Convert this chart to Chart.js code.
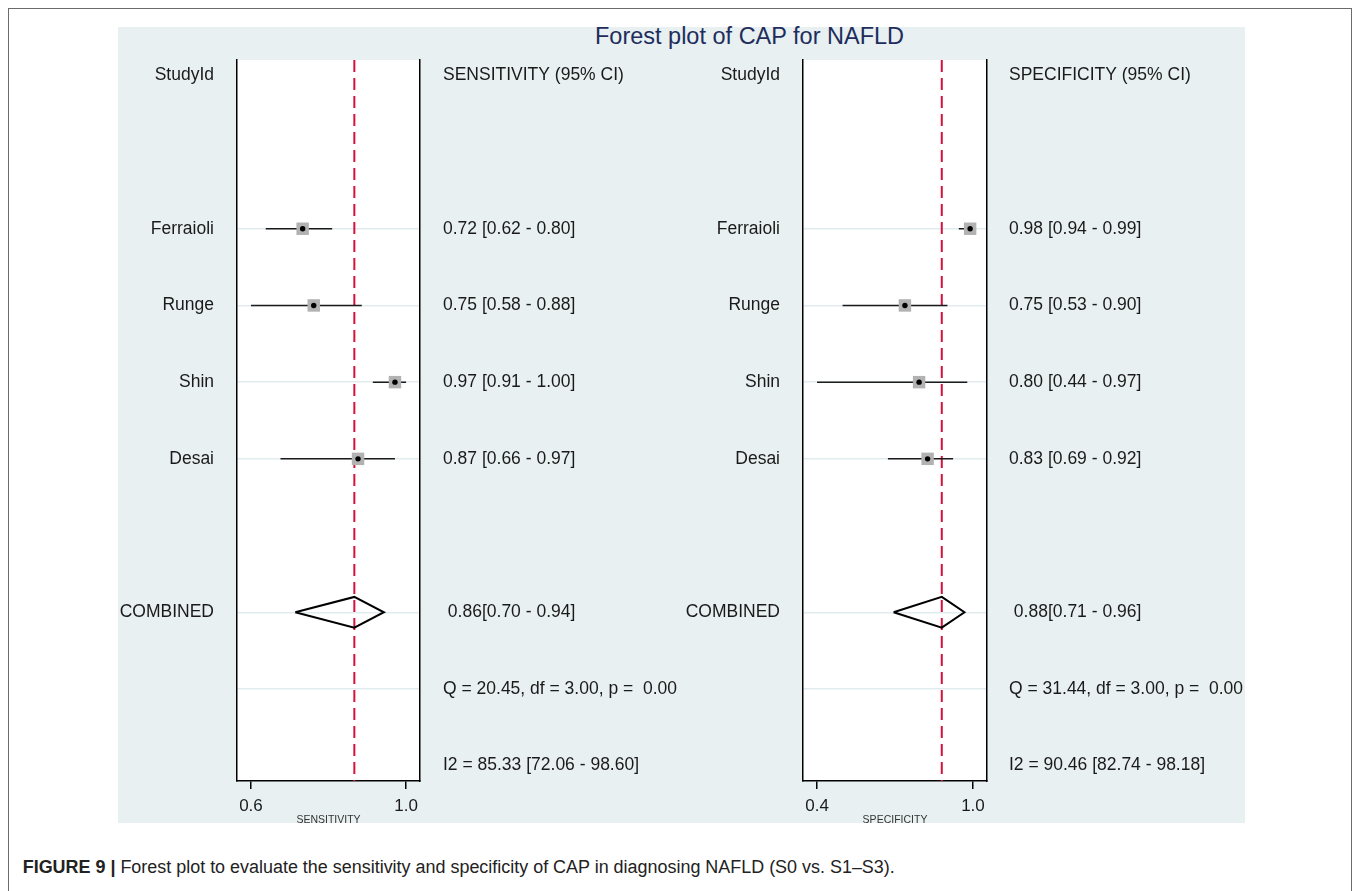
<!DOCTYPE html>
<html>
<head>
<meta charset="utf-8">
<script src="https://cdn.jsdelivr.net/npm/chart.js@4.4.1/dist/chart.umd.min.js"></script>
<style>
  html, body { margin: 0; padding: 0; background: #fff; width: 1358px; height: 891px; overflow: hidden; }
  #frame { position: absolute; left: 8px; top: 8px; width: 1344px; height: 900px; border: 1.5px solid #6b6b6b; box-sizing: border-box; }
  #panel { position: absolute; left: 118px; top: 27px; width: 1127px; height: 796px; background: #e8f0f2; }
  #title { position: absolute; left: 749.5px; top: 23px; transform: translateX(-50%); white-space: nowrap;
           font: 23.5px/26px "Liberation Sans", Arial, sans-serif; color: #1e2d5c; }
  canvas { position: absolute; }
  #sens { left: 100px; top: 40px; }
  #spec { left: 640px; top: 40px; }
  #caption { position: absolute; left: 22.7px; top: 856.5px; white-space: nowrap;
             font: 17.95px/20px "Liberation Sans", Arial, sans-serif; color: #222; }
</style>
</head>
<body>
<div id="frame"></div>
<div id="panel"></div>
<div id="title">Forest plot of CAP for NAFLD</div>
<canvas id="sens" width="590" height="783"></canvas>
<canvas id="spec" width="605" height="783"></canvas>
<div id="caption"><b>FIGURE 9 |</b> Forest plot to evaluate the sensitivity and specificity of CAP in diagnosing NAFLD (S0 vs. S1–S3).</div>

<script>
/* ---- data ---- */
const studies = ['Ferraioli', 'Runge', 'Shin', 'Desai'];
const studyRows = [0, 1, 2, 3];
const headerRow = -2, combinedRow = 5, qRow = 6, i2Row = 7;

const sensEst = [0.72, 0.75, 0.97, 0.87];
const sensLow = [0.62, 0.58, 0.91, 0.66];
const sensHigh = [0.80, 0.88, 1.00, 0.97];
const sensPooled = [0.86, 0.70, 0.94];   // estimate, low, high
const sensQ = [20.45, 3.00, 0.00];       // Q, df, p
const sensI2 = [85.33, 72.06, 98.60];

const specEst = [0.98, 0.75, 0.80, 0.83];
const specLow = [0.94, 0.53, 0.44, 0.69];
const specHigh = [0.99, 0.90, 0.97, 0.92];
const specPooled = [0.88, 0.71, 0.96];
const specQ = [31.44, 3.00, 0.00];
const specI2 = [90.46, 82.74, 98.18];

/* ---- look ---- */
const Y_MIN = -2.2, Y_MAX = 7.2, DIAMOND_H = 0.2;
const FONT = '"Liberation Sans", Arial, Helvetica, sans-serif';
const TXT = '#1a1a1a';

const whiteArea = {
  id: 'whiteArea',
  beforeDraw(chart) {
    const { ctx, chartArea: a } = chart;
    ctx.save();
    ctx.fillStyle = '#fff';
    ctx.fillRect(a.left, a.top, a.right - a.left, a.bottom - a.top);
    ctx.restore();
  },
};

// no label overflow padding: the plot frame is placed by the axis widths only
const noPad = (s) => { s.paddingTop = 0; s.paddingBottom = 0; s.paddingLeft = 0; s.paddingRight = 0; };

function forest(id, o) {
  const fmt = (v) => v.toFixed(2);
  const tickLo = Math.min(...o.low), tickHi = Math.max(...o.high);
  const pad = (tickHi - tickLo) * 0.09;

  const leftLabels = { [headerRow]: 'StudyId', [combinedRow]: 'COMBINED' };
  const rightLabels = { [headerRow]: o.header };
  studies.forEach((s, i) => {
    leftLabels[studyRows[i]] = s;
    rightLabels[studyRows[i]] = `${fmt(o.est[i])} [${fmt(o.low[i])} - ${fmt(o.high[i])}]`;
  });
  rightLabels[combinedRow] = ` ${fmt(o.pooled[0])}[${fmt(o.pooled[1])} - ${fmt(o.pooled[2])}]`;
  rightLabels[qRow] = `Q = ${fmt(o.q[0])}, df = ${fmt(o.q[1])}, p =  ${fmt(o.q[2])}`;
  rightLabels[i2Row] = `I2 = ${fmt(o.i2[0])} [${fmt(o.i2[1])} - ${fmt(o.i2[2])}]`;

  const labelRows = [headerRow, ...studyRows, combinedRow, qRow, i2Row];
  const gridRows = [...studyRows, combinedRow, qRow];
  const pts = o.est.map((v, i) => ({ x: v, y: studyRows[i] }));
  const c = combinedRow;

  const datasets = [
    { data: [{ x: o.pooled[0], y: Y_MIN }, { x: o.pooled[0], y: Y_MAX }], showLine: true,
      borderColor: '#d3123d', borderWidth: 2, borderDash: [12, 6], pointRadius: 0, order: 6 },
    ...o.est.map((v, i) => ({
      data: [{ x: o.low[i], y: studyRows[i] }, { x: o.high[i], y: studyRows[i] }], showLine: true,
      borderColor: '#1a1a1a', borderWidth: 1.5, pointRadius: 0, order: 5,
    })),
    { data: pts, pointStyle: 'rect', pointRadius: 8.8, pointBackgroundColor: '#b2b2b2', pointBorderWidth: 0, order: 4 },
    { data: pts, pointStyle: 'circle', pointRadius: 2.7, pointBackgroundColor: '#000', pointBorderWidth: 0, order: 3 },
    { data: [
        { x: o.pooled[1], y: c }, { x: o.pooled[0], y: c - DIAMOND_H }, { x: o.pooled[2], y: c },
        { x: o.pooled[0], y: c + DIAMOND_H }, { x: o.pooled[1], y: c },
      ], showLine: true, borderColor: '#000', borderWidth: 2, borderJoinStyle: 'miter', pointRadius: 0, order: 2 },
  ];

  const yBase = {
    type: 'linear', min: Y_MIN, max: Y_MAX, reverse: true,
    afterBuildTicks: (s) => { s.ticks = labelRows.map((v) => ({ value: v })); },
    border: { color: '#000', width: 1.5 },
  };

  new Chart(document.getElementById(id), {
    type: 'scatter',
    data: { datasets },
    plugins: [whiteArea],
    options: {
      responsive: false, animation: false, events: [],
      layout: { padding: { top: 20, left: 0, right: 0, bottom: 0 } },
      plugins: { legend: { display: false }, tooltip: { enabled: false } },
      scales: {
        x: {
          type: 'linear', min: tickLo - pad, max: tickHi + pad,
          afterBuildTicks: (s) => { s.ticks = [{ value: tickLo }, { value: tickHi }]; },
          afterFit: (s) => { s.height = 42; noPad(s); },
          grid: { drawOnChartArea: false, drawTicks: true, tickLength: 8, color: '#000', lineWidth: 1.5 },
          border: { color: '#000', width: 1.5 },
          ticks: { autoSkip: false, maxRotation: 0, padding: 7, color: TXT,
                   font: { family: FONT, size: 17 }, callback: (v) => v.toFixed(1) },
          title: { display: true, text: o.axisTitle, color: '#333', padding: 0,
                   font: { family: FONT, size: 10.5, lineHeight: 0.6 } },
        },
        y: {
          ...yBase, position: 'left',
          afterFit: (s) => { s.width = o.leftW; noPad(s); },
          grid: { color: (ctx) => (ctx.tick && gridRows.includes(ctx.tick.value) ? '#e2ecef' : 'rgba(0,0,0,0)'),
                  lineWidth: 1.5, drawTicks: false },
          ticks: { autoSkip: false, padding: 23, color: TXT, font: { family: FONT, size: 17.5 },
                   callback: (v) => leftLabels[v] ?? '' },
        },
        y2: {
          ...yBase, position: 'right',
          afterFit: (s) => { s.width = o.rightW; noPad(s); },
          grid: { drawOnChartArea: false, drawTicks: false },
          ticks: { autoSkip: false, padding: o.textPad, color: TXT, font: { family: FONT, size: 17.5 },
                   callback: (v) => rightLabels[v] ?? '' },
        },
      },
    },
  });
}

forest('sens', {
  est: sensEst, low: sensLow, high: sensHigh, pooled: sensPooled, q: sensQ, i2: sensI2,
  header: 'SENSITIVITY (95% CI)', axisTitle: 'SENSITIVITY', leftW: 137, rightW: 270, textPad: 23,
});
forest('spec', {
  est: specEst, low: specLow, high: specHigh, pooled: specPooled, q: specQ, i2: specI2,
  header: 'SPECIFICITY (95% CI)', axisTitle: 'SPECIFICITY', leftW: 163, rightW: 258, textPad: 22,
});
</script>
</body>
</html>
